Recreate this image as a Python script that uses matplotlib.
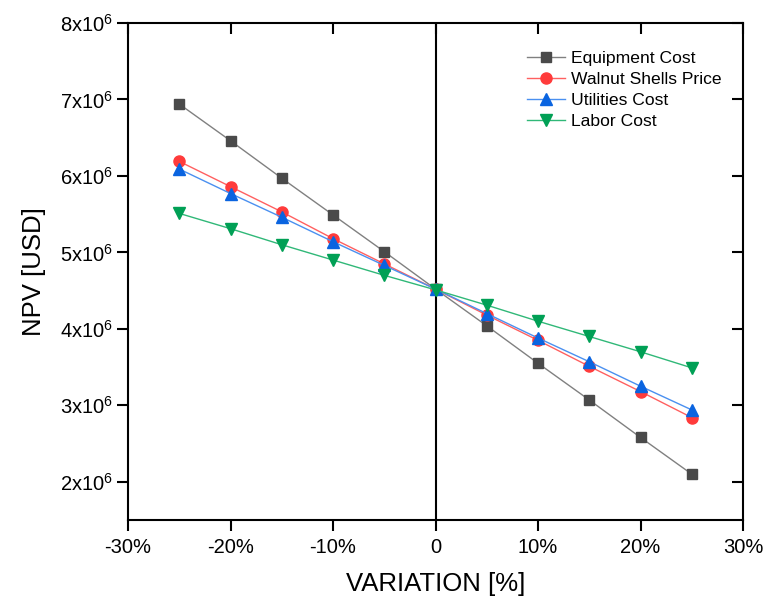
import matplotlib
matplotlib.use("Agg")
import matplotlib.pyplot as plt
from matplotlib.ticker import FuncFormatter, MultipleLocator

plt.rcParams['font.family'] = ['Liberation Sans', 'DejaVu Sans']
plt.rcParams['mathtext.fontset'] = 'custom'
plt.rcParams['mathtext.rm'] = 'Liberation Sans'
plt.rcParams['mathtext.it'] = 'Liberation Sans'
plt.rcParams['mathtext.default'] = 'regular'

variation = [-25, -20, -15, -10, -5, 0, 5, 10, 15, 20, 25]
equipment = [6.94, 6.46, 5.97, 5.49, 5.01, 4.52, 4.04, 3.55, 3.07, 2.58, 2.10]
walnut = [6.19, 5.86, 5.53, 5.18, 4.85, 4.52, 4.18, 3.85, 3.51, 3.18, 2.84]
utilities = [6.09, 5.77, 5.46, 5.14, 4.83, 4.52, 4.20, 3.88, 3.57, 3.25, 2.94]
labor = [5.51, 5.31, 5.10, 4.90, 4.70, 4.51, 4.31, 4.10, 3.90, 3.70, 3.49]
series_names = ["Equipment Cost", "Walnut Shells Price", "Utilities Cost", "Labor Cost"]

fig = plt.figure(figsize=(7.68, 5.96), dpi=100)
ax = fig.add_axes([128/768, 1-520/596, (743-128)/768, 497/596])

scale = 1e6
ax.axvline(0, color='black', lw=1.5, zorder=1)

ax.plot(variation, [v*scale for v in equipment], color='#808080', lw=1,
        marker='s', ms=7.5, mfc='#4a4a4a', mec='#4a4a4a', label=series_names[0], zorder=3)
ax.plot(variation, [v*scale for v in walnut], color='#ff6060', lw=1,
        marker='o', ms=8, mfc='#ff3b3b', mec='#ff3b3b', label=series_names[1], zorder=4)
ax.plot(variation, [v*scale for v in utilities], color='#4a90f0', lw=1,
        marker='^', ms=9, mfc='#0a64e0', mec='#0a64e0', label=series_names[2], zorder=5)
ax.plot(variation, [v*scale for v in labor], color='#30b878', lw=1,
        marker='v', ms=9, mfc='#00a055', mec='#00a055', label=series_names[3], zorder=6)

ax.set_xlim(-30, 30)
ax.set_ylim(1.5e6, 8e6)
ax.xaxis.set_major_locator(MultipleLocator(10))
ax.yaxis.set_major_locator(MultipleLocator(1e6))

def xfmt(v, pos):
    if abs(v) < 1e-9:
        return "0"
    return f"{int(round(v))}%"

def yfmt(v, pos):
    return f"{int(round(v/1e6))}x10$^{{6}}$"

ax.xaxis.set_major_formatter(FuncFormatter(xfmt))
ax.yaxis.set_major_formatter(FuncFormatter(yfmt))

for s in ax.spines.values():
    s.set_linewidth(1.5)

ax.tick_params(axis='both', which='major', direction='out', length=8, width=1.5,
               labelsize=14.5, pad=3)
ax.tick_params(axis='x', top=True, labeltop=False)
ax.tick_params(axis='y', right=True, labelright=False)
ax.tick_params(axis='x', which='major', pad=5)
for t in ax.xaxis.get_major_ticks():
    t.tick2line.set_marker(3)
for t in ax.yaxis.get_major_ticks():
    t.tick2line.set_marker(0)

ax.set_xlabel("VARIATION [%]", fontsize=18.5, labelpad=10.5)
ax.set_ylabel("NPV [USD]", fontsize=18.5, labelpad=10)

leg = ax.legend(loc='upper left', bbox_to_anchor=(0.637, 0.959), frameon=False,
                fontsize=12.6, handlelength=2.17, handletextpad=0.34, labelspacing=0.33,
                borderaxespad=0)

fig.savefig("out.png", dpi=100)
